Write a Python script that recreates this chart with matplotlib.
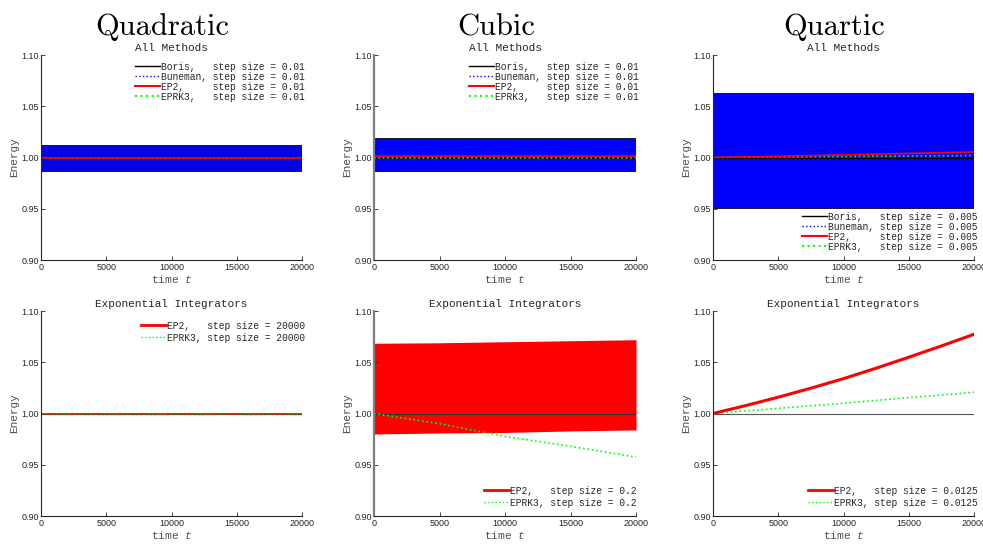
import numpy as np
import matplotlib
matplotlib.use("Agg")
import matplotlib.pyplot as plt
from matplotlib.lines import Line2D

plt.rcParams['font.family'] = ['Liberation Sans', 'DejaVu Sans']
plt.rcParams['mathtext.fontset'] = 'custom'
plt.rcParams['mathtext.it'] = 'Liberation Mono:italic'
plt.rcParams['mathtext.rm'] = 'Liberation Mono'

MONO = 'Liberation Mono'
TXT = '#262626'
LAB = '#4d4d4d'

# ---- data ----
t_env = [0, 5000, 10000, 15000, 20000]

# top row: oscillation envelopes (lower, upper) of Boris / Buneman
quad_boris_lo = [0.986, 0.986, 0.986, 0.986, 0.986]
quad_boris_hi = [1.012, 1.012, 1.012, 1.012, 1.012]
quad_bune_lo = [0.987, 0.987, 0.987, 0.987, 0.987]
quad_bune_hi = [1.011, 1.011, 1.011, 1.011, 1.011]
quad_ep2 = [1.000, 1.000, 1.000, 1.000, 1.000]
quad_eprk3 = [1.000, 1.000, 1.000, 1.000, 1.000]

cub_boris_lo = [0.9855, 0.9855, 0.9855, 0.9855, 0.9855]
cub_boris_hi = [1.0195, 1.0195, 1.0195, 1.0195, 1.0195]
cub_bune_lo = [0.9865, 0.9865, 0.9865, 0.9865, 0.9865]
cub_bune_hi = [1.0185, 1.0185, 1.0185, 1.0185, 1.0185]
cub_ep2 = [1.001, 1.001, 1.001, 1.001, 1.001]
cub_eprk3 = [1.000, 1.000, 1.000, 1.000, 1.000]

quar_boris_lo = [0.9495, 0.9495, 0.9495, 0.9495, 0.9495]
quar_boris_hi = [1.0625, 1.0625, 1.0625, 1.0625, 1.0625]
quar_bune_lo = [0.9505, 0.9505, 0.9505, 0.9505, 0.9505]
quar_bune_hi = [1.0615, 1.0615, 1.0615, 1.0615, 1.0615]
quar_ep2 = [1.000, 1.0012, 1.0025, 1.004, 1.0054]
quar_eprk3 = [1.000, 1.0005, 1.001, 1.0015, 1.002]

# bottom row: exponential integrators
t_big = [0, 20000]
quad_exp_ep2 = [1.000, 1.000]
quad_exp_eprk3 = [1.000, 1.000]

cub_exp_ep2_lo = [0.980, 0.981, 0.9815, 0.983, 0.984]
cub_exp_ep2_hi = [1.0685, 1.069, 1.070, 1.071, 1.072]
cub_exp_eprk3 = [1.000, 0.990, 0.9776, 0.968, 0.9575]

t_fine = [0, 2500, 5000, 7500, 10000, 12500, 15000, 17500, 20000]
quar_exp_ep2 = [1.000, 1.0077, 1.0159, 1.0247, 1.034, 1.0442, 1.0549, 1.0659, 1.0773]
quar_exp_eprk3 = [1.000, 1.0025, 1.005, 1.0075, 1.010, 1.0128, 1.0155, 1.018, 1.0208]

x_ticks = [0, 5000, 10000, 15000, 20000]
y_ticks = [0.90, 0.95, 1.00, 1.05, 1.10]
col_titles = ['Quadratic', 'Cubic', 'Quartic']
top_steps = ['0.01', '0.01', '0.005']
bot_steps = ['20000', '0.2', '0.0125']

W, H = 983, 546
fig = plt.figure(figsize=(W / 100, H / 100), dpi=100)

col_left = [41, 374, 713]
col_width = [261, 262, 261]
row_top = [55, 311]
ax_h = 205


def make_ax(r, c):
    l, w = col_left[c], col_width[c]
    t = row_top[r]
    ax = fig.add_axes([l / W, 1 - (t + ax_h) / H, w / W, ax_h / H])
    ax.set_xlim(0, 20000)
    ax.set_ylim(0.90, 1.10)
    ax.set_xticks(x_ticks)
    ax.set_yticks(y_ticks)
    ax.set_yticklabels(['%.2f' % v for v in y_ticks])
    ax.tick_params(direction='in', length=3, width=0.6, labelsize=6.5,
                   colors=TXT, pad=2)
    ax.tick_params(axis='y', pad=1.5)
    ax.spines['top'].set_visible(False)
    ax.spines['right'].set_visible(False)
    ax.spines['bottom'].set_color(TXT)
    ax.spines['bottom'].set_linewidth(0.8)
    if c == 1:
        ax.spines['left'].set_color('#7f7f7f')
        ax.spines['left'].set_linewidth(1.6)
    else:
        ax.spines['left'].set_color(TXT)
        ax.spines['left'].set_linewidth(0.8)
    ax.set_ylabel('Energy', fontfamily=MONO, fontsize=8, color=LAB, labelpad=1.5)
    ax.set_xlabel('time $t$', fontfamily=MONO, fontsize=8, color=LAB, labelpad=1)
    return ax


def legend(ax, handles, labels, x, y, spacing):
    ax.legend(handles, labels, loc='upper left', bbox_to_anchor=(x, y),
              frameon=False, borderpad=0, borderaxespad=0,
              handlelength=2.6, handletextpad=0.1, labelspacing=spacing,
              prop={'family': MONO, 'size': 6.9}, labelcolor=TXT)


def top_handles():
    return [Line2D([], [], color='black', lw=1),
            Line2D([], [], color='blue', lw=1, ls=':'),
            Line2D([], [], color='red', lw=1.5),
            Line2D([], [], color='#00ff00', lw=1.5, ls=':')]


def top_labels(s):
    return ['Boris,   step size = ' + s,
            'Buneman, step size = ' + s,
            'EP2,     step size = ' + s,
            'EPRK3,   step size = ' + s]


def bot_handles():
    return [Line2D([], [], color='red', lw=2),
            Line2D([], [], color='#00ff00', lw=1, ls=':')]


def bot_labels(s):
    return ['EP2,   step size = ' + s,
            'EPRK3, step size = ' + s]


# ---- top row ----
top_data = [
    (quad_boris_lo, quad_boris_hi, quad_bune_lo, quad_bune_hi, quad_ep2, quad_eprk3, 0.85),
    (cub_boris_lo, cub_boris_hi, cub_bune_lo, cub_bune_hi, cub_ep2, cub_eprk3, 1.0),
    (quar_boris_lo, quar_boris_hi, quar_bune_lo, quar_bune_hi, quar_ep2, quar_eprk3, 1.0),
]
top_leg_pos = [(0.360, 0.968), (0.3626, 0.968), (0.341, 0.236)]

for c, (blo, bhi, ulo, uhi, ep2, eprk3, blue_alpha) in enumerate(top_data):
    ax = make_ax(0, c)
    ax.fill_between(t_env, blo, bhi, color='#1a1a40', lw=0)
    ax.fill_between(t_env, ulo, uhi, color='blue', alpha=blue_alpha, lw=0)
    ax.axhline(1.0, color='black', lw=0.8)
    ax.plot(t_env, eprk3, color='#00ff00', lw=1.2, ls=':')
    ax.plot(t_env, ep2, color='red', lw=1.2)
    ax.set_title('All Methods', fontfamily=MONO, fontsize=8, color=TXT, pad=3)
    legend(ax, top_handles(), top_labels(top_steps[c]), *top_leg_pos[c], 0.0)
    fig.text([162, 496, 834.5][c] / W, 1 - 35 / H, col_titles[c],
             fontfamily='cmr10', fontsize=22, ha='center', va='baseline',
             color='black')

# ---- bottom row ----
bot_leg_pos = [(0.383, 0.953), (0.42, 0.148), (0.364, 0.148)]

ax = make_ax(1, 0)
ax.axhline(1.0, color='black', lw=0.8)
ax.plot(t_big, quad_exp_ep2, color='red', lw=1.2)
ax.plot(t_big, quad_exp_eprk3, color='#00aa00', lw=1, ls=':')

ax = make_ax(1, 1)
ax.fill_between(t_env, cub_exp_ep2_lo, cub_exp_ep2_hi, color='red', lw=0)
ax.axhline(1.0, color='#333333', lw=0.8)
ax.plot(t_env, cub_exp_eprk3, color='#00ff00', lw=1.2, ls=':')

ax = make_ax(1, 2)
ax.axhline(1.0, color='#555555', lw=0.8)
ax.plot(t_fine, quar_exp_eprk3, color='#00ff00', lw=1.2, ls=':')
ax.plot(t_fine, quar_exp_ep2, color='red', lw=2.2)

for c, a in enumerate(fig.axes[3:]):
    a.set_title('Exponential Integrators', fontfamily=MONO, fontsize=8,
                color=TXT, pad=3)
    legend(a, bot_handles(), bot_labels(bot_steps[c]), *bot_leg_pos[c], 0.2)

fig.savefig('out.png', dpi=100)
